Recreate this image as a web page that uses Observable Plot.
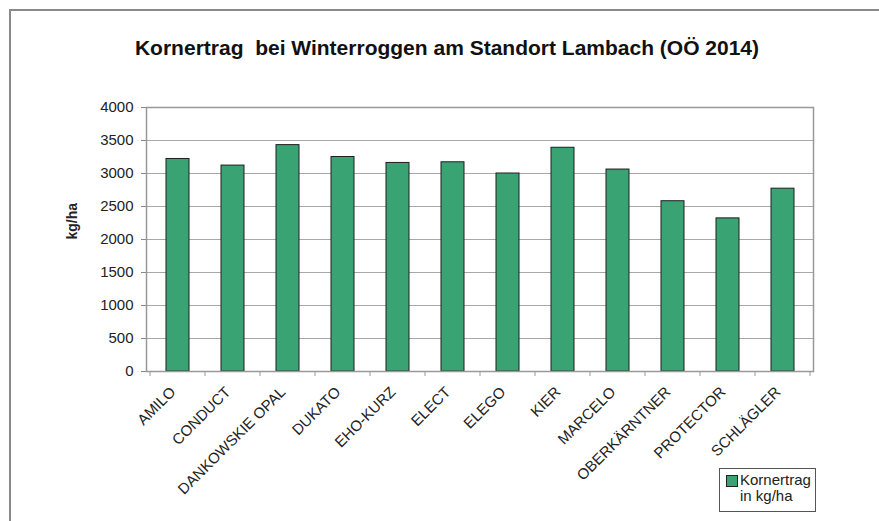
<!DOCTYPE html>
<html>
<head>
<meta charset="utf-8">
<script src="https://cdn.jsdelivr.net/npm/d3@7"></script>
<script src="https://cdn.jsdelivr.net/npm/@observablehq/plot@0.6"></script>
<style>
  html, body { margin: 0; padding: 0; background: #fff; overflow: hidden; }
  body { width: 879px; height: 521px; position: relative; font-family: "Liberation Sans", Arial, sans-serif; }
  #frameTop { position: absolute; left: 9px; top: 9px; width: 870px; height: 2px; background: #8a8a8a; }
  #frameLeft { position: absolute; left: 9px; top: 9px; width: 2px; height: 512px; background: #8a8a8a; }
  #title { position: absolute; left: 15px; width: 864px; top: 37px; text-align: center; font-size: 21px; line-height: 21px; font-weight: bold; color: #111; white-space: pre; }
  #chart { position: absolute; left: 0; top: 70px; width: 879px; height: 451px; overflow: hidden; }
  #chart svg { display: block; }
  #legend { position: absolute; left: 719px; top: 468px; width: 97px; height: 44px; box-sizing: border-box; border: 1.5px solid #555; background: #fff; font-size: 15px; color: #222; }
  #legend .sw { position: absolute; left: 6px; top: 6px; width: 10px; height: 10px; background: #3aa373; border: 1px solid #222; }
  #legend .t { position: absolute; left: 20px; top: 3px; line-height: 16px; }
</style>
</head>
<body>
<div id="frameTop"></div>
<div id="frameLeft"></div>
<div id="title">Kornertrag  bei Winterroggen am Standort Lambach (OÖ 2014)</div>
<div id="chart"></div>
<div id="legend"><div class="sw"></div><div class="t">Kornertrag<br>in kg/ha</div></div>
<script>
const categories = ["AMILO", "CONDUCT", "DANKOWSKIE OPAL", "DUKATO", "EHO-KURZ", "ELECT", "ELEGO", "KIER", "MARCELO", "OBERKÄRNTNER", "PROTECTOR", "SCHLÄGLER"];
const values = [3220, 3120, 3430, 3250, 3160, 3170, 3000, 3390, 3060, 2580, 2320, 2770];
const yTicks = [0, 500, 1000, 1500, 2000, 2500, 3000, 3500, 4000];

const data = categories.map((c, i) => ({cat: c, v: values[i]}));

const W = 879, H = 451, mL = 146, mR = 66, mT = 37, mB = 150;

const plot = Plot.plot({
  width: W,
  height: H,
  marginLeft: mL,
  marginRight: mR,
  marginTop: mT,
  marginBottom: mB,
  style: {fontFamily: "'Liberation Sans', Arial, sans-serif", fontSize: "15px", color: "#222", background: "transparent"},
  x: {domain: categories, paddingInner: 0.59, paddingOuter: 0.295, label: null},
  y: {domain: [0, 4000], ticks: yTicks, label: null},
  marks: [
    Plot.gridY(yTicks, {stroke: "#a8a8a8", strokeOpacity: 1, strokeWidth: 1}),
    Plot.barY(data, {x: "cat", y: "v", fill: "#3aa373", stroke: "#1e1e1e", strokeWidth: 1}),
    Plot.frame({stroke: "#999", strokeWidth: 1.5}),
    Plot.axisY(yTicks, {tickSize: 5, tickPadding: 8, stroke: "#888", fill: "#222", tickFormat: d => String(d), fontSize: 15}),
    Plot.axisX({tickSize: 0, tickPadding: 18, tickRotate: -45, dx: -5, fill: "#222", fontSize: 15}),
    Plot.text(["kg/ha"], {frameAnchor: "left", dx: -74, rotate: -90, fontWeight: "bold", fontSize: 14, fill: "#222"})
  ]
});

// tick marks between categories on the x axis, from the plot's own x scale
const xs = plot.scale("x");
const step = xs.step;
const svg = d3.select(plot);
const ys = plot.scale("y");
const y0 = ys.apply(0);
const g = svg.append("g").attr("stroke", "#999").attr("stroke-width", 1);
categories.forEach((c) => {
  const xb = xs.apply(c) + xs.bandwidth / 2 - step / 2;
  g.append("line").attr("x1", xb).attr("x2", xb).attr("y1", y0).attr("y2", y0 + 5);
});
const last = xs.apply(categories[categories.length - 1]) + xs.bandwidth / 2 + step / 2;
g.append("line").attr("x1", last).attr("x2", last).attr("y1", y0).attr("y2", y0 + 5);

document.getElementById("chart").appendChild(plot);
</script>
</body>
</html>
